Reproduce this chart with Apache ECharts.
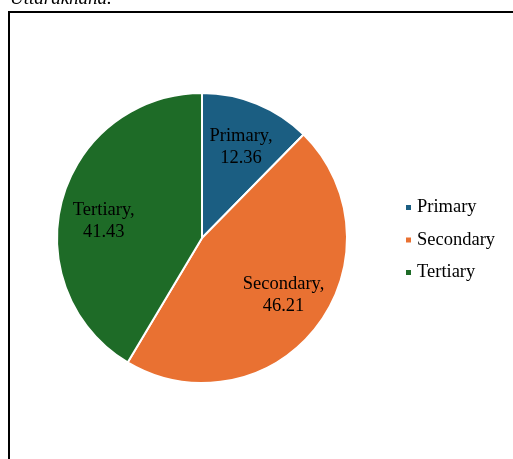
<!DOCTYPE html>
<html><head><meta charset="utf-8">
<script src="https://cdn.jsdelivr.net/npm/echarts@6/dist/echarts.min.js"></script>
<style>html,body{margin:0;padding:0;background:#fff}#c{width:513px;height:459px}</style>
</head><body><div id="c"></div>
<script>
const categories = ['Primary', 'Secondary', 'Tertiary'];
const values = [12.36, 46.21, 41.43];
const colors = ['#1b5e82', '#e97132', '#1e6b27'];
const captionText = 'Uttarakhand.';

const chart = echarts.init(document.getElementById('c'));
const font = '"Liberation Serif", "Times New Roman", serif';
const labelNudge = [[0, 4], [0, -6], [1, 11]];
const mainData = categories.map((c, i) => ({ name: c, value: values[i], itemStyle: { color: colors[i] } }));
const labelData = categories.map((c, i) => ({ name: c, value: values[i], label: { offset: labelNudge[i] } }));
chart.setOption({
  animation: false,
  backgroundColor: '#fff',
  graphic: [
    { type: 'rect', shape: { x: 9, y: 12, width: 520, height: 470 }, style: { fill: 'none', stroke: '#000', lineWidth: 2 } },
    { type: 'text', x: 10, y: 8, style: { text: captionText, font: 'italic 19px ' + font, fill: '#000', textVerticalAlign: 'bottom' } }
  ],
  legend: {
    orient: 'vertical', left: 399, top: 193, icon: 'rect', itemWidth: 7, itemHeight: 7, itemGap: 13.5,
    data: categories,
    textStyle: { fontFamily: font, fontSize: 18.5, color: '#000', padding: [0, 0, 0, 0] }
  },
  series: [
    {
      type: 'pie', center: [202, 238], radius: 145, startAngle: 90, clockwise: true,
      itemStyle: { borderColor: '#fff', borderWidth: 2 },
      label: { show: false }, labelLine: { show: false }, emphasis: { disabled: true },
      data: mainData
    },
    {
      type: 'pie', center: [202, 238], radius: [55, 145], startAngle: 90, clockwise: true, silent: true,
      legendHoverLink: false,
      itemStyle: { color: 'rgba(0,0,0,0)' },
      label: { show: true, position: 'inside', formatter: p => p.name + ',\n' + p.value.toFixed(2), fontFamily: font, fontSize: 18.5, color: '#000', lineHeight: 22 },
      labelLine: { show: false }, emphasis: { disabled: true },
      data: labelData
    }
  ]
});
</script></body></html>
